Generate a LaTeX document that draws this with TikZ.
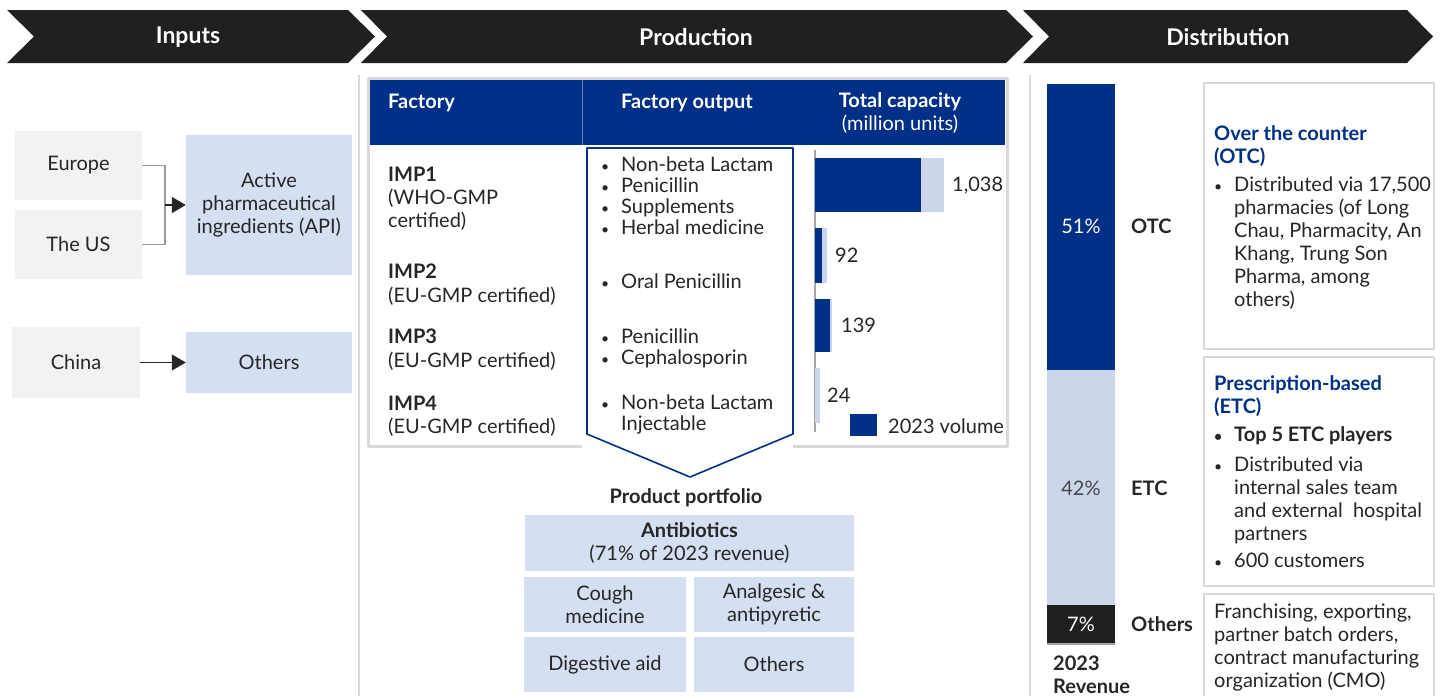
\documentclass[tikz,border=0pt]{standalone}
\usepackage{fontspec}
\setmainfont{Lato}
\usetikzlibrary{arrows.meta}

\definecolor{navy}{RGB}{0,48,135}
\definecolor{boxblue}{RGB}{212,223,241}
\definecolor{barblue}{RGB}{204,214,234}
\definecolor{boxgray}{RGB}{242,242,242}
\definecolor{headblack}{RGB}{32,32,32}
\definecolor{framegray}{RGB}{217,217,217}
\definecolor{ink}{RGB}{38,38,38}

\newcommand{\fs}{\fontsize{20}{23}\selectfont}
\newcommand{\fsl}{\fontsize{20}{21}\selectfont}
\newcommand{\bul}{\llap{{\fontsize{14}{14}\selectfont\textbullet}\hspace{12pt}}}

\tikzset{
  every node/.style={text=ink},
  headtxt/.style={text=white, font=\fontsize{23}{26}\selectfont\bfseries, inner sep=0},
  srcbox/.style={fill=boxgray, minimum width=127, minimum height=69, inner sep=0},
  apibox/.style={fill=boxblue, minimum width=166, inner sep=0, align=center},
  pbox/.style={fill=boxblue, minimum width=161, minimum height=55, inner sep=0, align=center},
  lbl/.style={inner sep=0, anchor=base west, align=left},
  mid/.style={inner sep=0, anchor=base, align=center},
  linkgray/.style={draw=gray!80, line width=1.1},
  frameline/.style={draw=framegray, line width=2.5},
}

\begin{document}
\begin{tikzpicture}[x=1pt, y=-1pt, font=\fs, line join=round, >={Triangle[length=14pt,width=16pt]}]
\fill[white] (0,0) rectangle (1451,696);
\useasboundingbox (0,0) rectangle (1451,696);

% header chevrons
\fill[headblack] (7,10) -- (348,10) -- (375,36.5) -- (348,63) -- (7,63) -- (34,36.5) -- cycle;
\fill[headblack] (361,10) -- (1006,10) -- (1033,36.5) -- (1006,63) -- (361,63) -- (387,36.5) -- cycle;
\fill[headblack] (1023,10) -- (1407,10) -- (1433,36.5) -- (1407,63) -- (1023,63) -- (1049,36.5) -- cycle;
\node[headtxt] (hin) at (188,37) {Inputs};
\node[headtxt] (hprod) at (696,37) {Production};
\node[headtxt] (hdist) at (1228,37) {Distribution};

\draw[framegray, line width=1.5] (359,75) -- (359,696);
\draw[framegray, line width=1.5] (1030,75) -- (1030,696);

% inputs
\node[srcbox] (eu) at (78.5,165.5) {Europe};
\node[srcbox] (us) at (78.5,244.5) {The US};
\node[srcbox, minimum width=128, minimum height=71] (cn) at (76,362.5) {China};
\node[apibox, minimum height=140] (api) at (269,205) {Active\\pharmaceutical\\ingredients (API)};
\node[apibox, minimum height=61] (oth) at (269,362.5) {Others};
\coordinate (jn) at (165,205);
\draw[linkgray] (eu.east) -| (jn) |- (us.east);
\draw[->, ink, line width=1.1] (jn) -- (api.west);
\draw[->, ink, line width=1.1] (cn.east) -- (oth.west);

% factory table
\draw[frameline, line width=3] (582,446) -- (368,446) -- (368,78) -- (1007,78) -- (1007,446) -- (793,446);
\fill[navy] (370,80) rectangle (1005,145);
\draw[navy!60!white, line width=0.8] (582,80) -- (582,145);
\node[lbl, text=white, font=\fs\bfseries] (tfac) at (388,108) {Factory};
\node[mid, text=white, font=\fs\bfseries] (tout) at (687,108) {Factory output};
\node[mid, text=white] (tcap) at (900,130) {\textbf{Total capacity}\\(million units)};

\node[lbl] (fac1) at (388,227) {\textbf{IMP1}\\(WHO-GMP\\certified)};
\node[lbl, font=\fontsize{20}{24}\selectfont] (fac2) at (388,302) {\textbf{IMP2}\\(EU-GMP certified)};
\node[lbl, font=\fontsize{20}{24}\selectfont] (fac3) at (388,367) {\textbf{IMP3}\\(EU-GMP certified)};
\node[lbl] (fac4) at (388,433) {\textbf{IMP4}\\(EU-GMP certified)};

% output funnel
\draw[navy, line width=1.6, fill=white] (587,148) -- (793,148) -- (793,434) -- (690,477) -- (587,434) -- cycle;
\node[lbl, font=\fsl] (out1) at (621,234) {\bul Non-beta Lactam\\\bul Penicillin\\\bul Supplements\\\bul Herbal medicine};
\node[lbl, font=\fsl] (out2) at (621,288) {\bul Oral Penicillin};
\node[lbl, font=\fsl] (out3) at (621,364) {\bul Penicillin\\\bul Cephalosporin};
\node[lbl, font=\fsl] (out4) at (621,430) {\bul Non-beta Lactam\\Injectable};

% capacity bars
\draw[gray!70, line width=1.2] (815,150) -- (815,432);
\fill[barblue] (815,158) rectangle (944,212);
\fill[navy] (815,158) rectangle (921,212);
\fill[barblue] (815,228) rectangle (827,283);
\fill[navy] (815,228) rectangle (822,283);
\fill[barblue] (815,299) rectangle (832,352);
\fill[navy] (815,299) rectangle (830,352);
\fill[barblue] (815,368) rectangle (820,423);
\node[lbl] (cap1) at (952,191) {1,038};
\node[lbl] (cap2) at (835,262) {92};
\node[lbl] (cap3) at (841,332) {139};
\node[lbl] (cap4) at (827,402) {24};
\fill[navy] (850,414) rectangle (877,436);
\node[lbl] (leg) at (888,433) {2023 volume};

% product portfolio
\node[mid, font=\fs\bfseries] (pp) at (686,503) {Product portfolio};
\node[pbox, minimum width=329, minimum height=56] (anti) at (689.5,543) {\textbf{Antibiotics}\\(71\% of 2023 revenue)};
\node[pbox, minimum width=162] (cough) at (605,604.5) {Cough\\medicine};
\node[pbox, minimum width=160] (analg) at (774,604.5) {Analgesic \&\\antipyretic};
\node[pbox, minimum width=162] (dig) at (605,664.5) {Digestive aid};
\node[pbox, minimum width=160] (poth) at (774,664.5) {Others};

% revenue split
\fill[navy] (1047,84) rectangle (1115,370);
\fill[barblue] (1047,370) rectangle (1115,605);
\fill[headblack] (1047,605) rectangle (1115,643);
\draw[gray!70, line width=1.2] (1047,644) -- (1115,644);
\node[mid, text=white] (p51) at (1081,233) {51\%};
\node[mid, text=ink!85] (p42) at (1081,495) {42\%};
\node[mid, text=white] (p7) at (1081,631) {7\%};
\node[lbl, font=\fs\bfseries] (otc) at (1131,233) {OTC};
\node[lbl, font=\fs\bfseries] (etc) at (1131,495) {ETC};
\node[lbl, font=\fs\bfseries] (roth) at (1131,631) {Others};
\node[lbl, font=\fs\bfseries] (rev) at (1053,693) {2023\\Revenue};

% channel boxes
\draw[frameline] (1204,83) rectangle (1434,349);
\draw[frameline] (1204,357) rectangle (1434,586);
\draw[frameline] (1204,696) -- (1204,594) -- (1434,594) -- (1434,696);
\node[lbl, text=navy, font=\fs\bfseries] (otct) at (1214,163) {Over the counter\\(OTC)};
\node[lbl] (otcl) at (1234,306) {\bul Distributed via 17,500\\pharmacies (of Long\\Chau, Pharmacity, An\\Khang, Trung Son\\Pharma, among\\others)};
\node[lbl, text=navy, font=\fs\bfseries] (etct) at (1214,413) {Prescription-based\\(ETC)};
\node[lbl, font=\fs\bfseries] (etc1) at (1234,441) {\bul Top 5 ETC players};
\node[lbl] (etc2) at (1234,540) {\bul Distributed via\\internal sales team\\and external\ \ hospital\\partners};
\node[lbl] (etc3) at (1234,567) {\bul 600 customers};
\node[lbl] (otht) at (1214,687) {Franchising, exporting,\\partner batch orders,\\contract manufacturing\\organization (CMO)};
\end{tikzpicture}
\end{document}
